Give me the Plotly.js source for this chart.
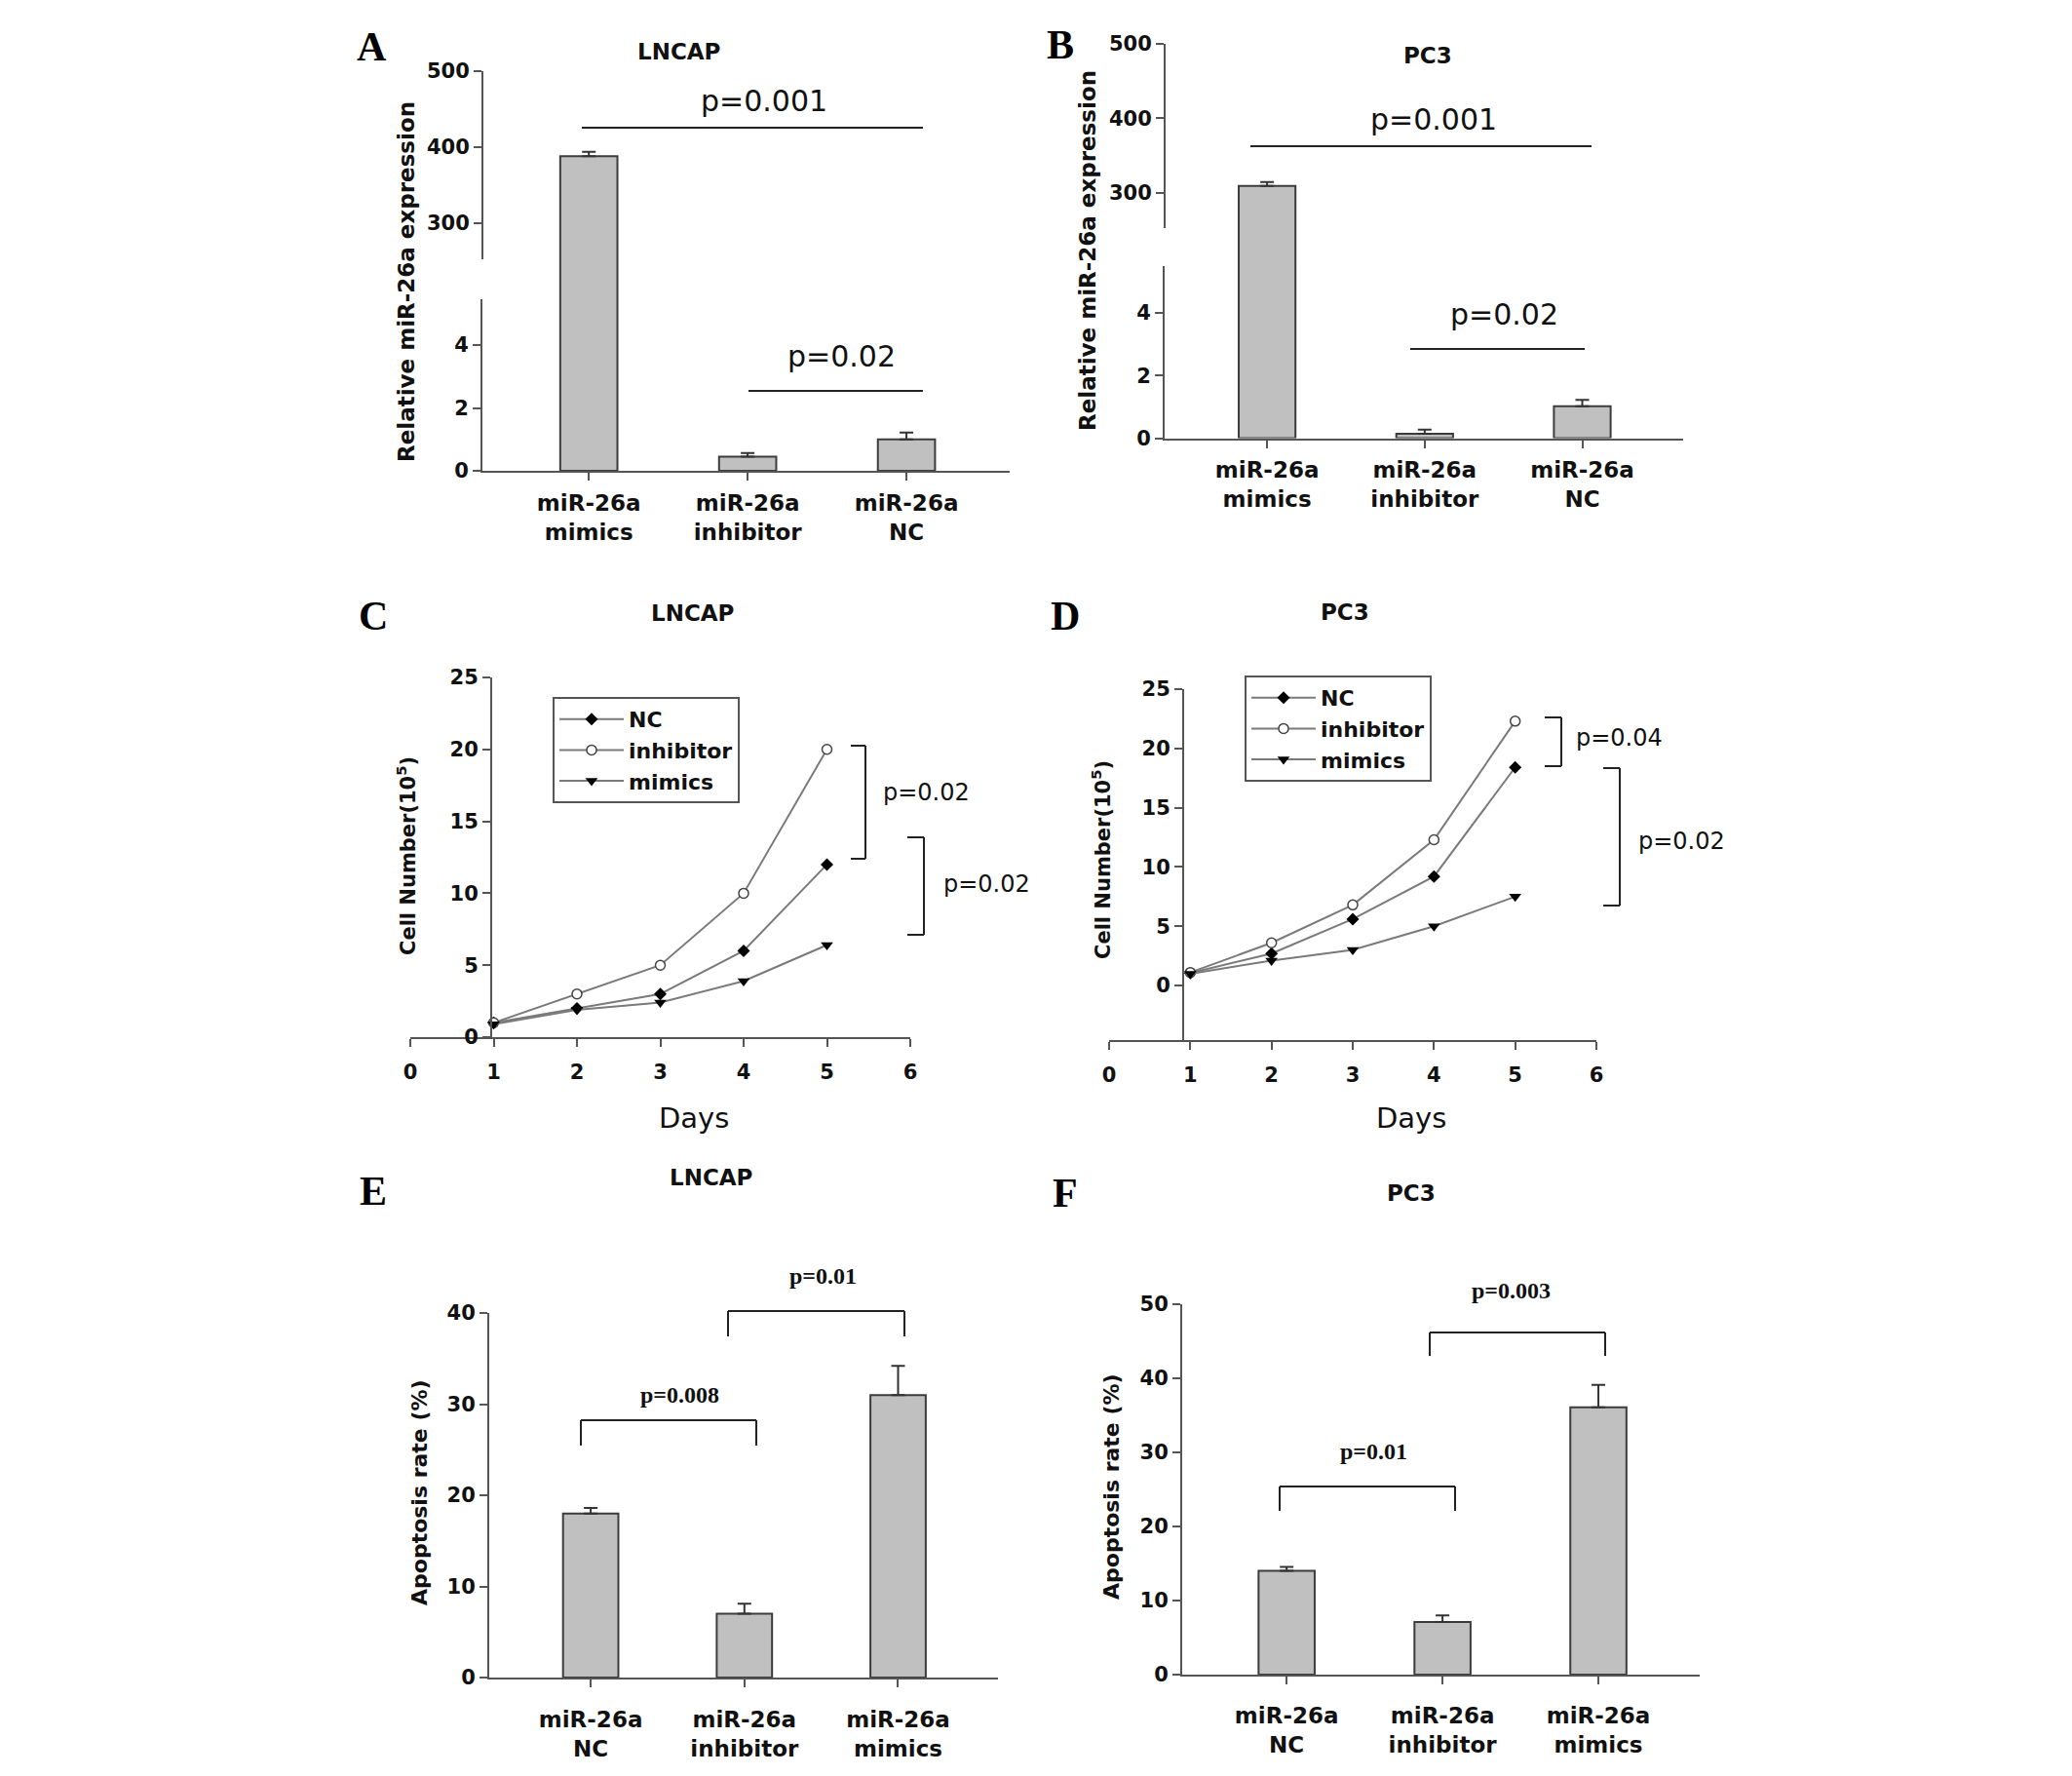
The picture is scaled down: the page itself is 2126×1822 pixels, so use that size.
<!DOCTYPE html>
<html>
<head>
<meta charset="utf-8">
<script src="https://cdn.plot.ly/plotly-3.0.1.min.js"></script>
<style>
  html, body { margin: 0; padding: 0; background: #fff; }
  #fig { width: 2126px; height: 1822px; }
</style>
</head>
<body>
<div id="fig"></div>
<script>
// ---- data ----
var abCats = ["miR-26a<br>mimics", "miR-26a<br>inhibitor", "miR-26a<br>NC"];
var lncapExpr = [388, 0.45, 1.0];
var lncapExprErr = [6, 0.12, 0.22];
var pc3Expr = [309, 0.14, 1.02];
var pc3ExprErr = [5, 0.13, 0.2];

var days = [1, 2, 3, 4, 5];
var lncapNC = [1, 2, 3, 6, 12];
var lncapInhibitor = [1, 3, 5, 10, 20];
var lncapMimics = [0.9, 1.9, 2.4, 3.9, 6.4];
var pc3NC = [1.05, 2.7, 5.6, 9.2, 18.4];
var pc3Inhibitor = [1.1, 3.6, 6.8, 12.3, 22.3];
var pc3Mimics = [1, 2.1, 3.0, 5.0, 7.5];
var seriesNames = ["NC", "inhibitor", "mimics"];

var efCats = ["miR-26a<br>NC", "miR-26a<br>inhibitor", "miR-26a<br>mimics"];
var lncapApop = [18, 7, 31];
var lncapApopErr = [0.6, 1.1, 3.2];
var pc3Apop = [14, 7.1, 36.1];
var pc3ApopErr = [0.55, 0.9, 3.0];

// ---- helpers (pixel -> paper) ----
var W = 2126, H = 1822;
function fx(px) { return px / W; }
function fy(py) { return 1 - py / H; }

var AX = "#555";
var BOLD = { family: "DejaVu Sans", size: 21, color: "#111", weight: "bold" };

function catAxis(l, r, range, anchor, cats, standoff) {
    return {
        domain: [fx(l), fx(r)], range: range, anchor: anchor,
        type: "category", categoryorder: "array", categoryarray: cats,
        showline: true, linecolor: AX, linewidth: 2,
        ticks: "outside", ticklen: 8, tickwidth: 2, tickcolor: AX,
        ticklabelstandoff: standoff,
        showgrid: false, zeroline: false,
        tickfont: { family: "DejaVu Sans", size: 23, color: "#111", weight: "bold" }
    };
}
function valAxis(top, bottom, range, anchor, vals, line) {
    return {
        domain: [fy(bottom), fy(top)], range: range, anchor: anchor,
        showline: line, linecolor: AX, linewidth: 2,
        ticks: "outside", ticklen: 8, tickwidth: 2, tickcolor: AX,
        tickmode: "array", tickvals: vals,
        showgrid: false, zeroline: false, tickfont: BOLD
    };
}

function bars(cats, vals, err, xa, ya) {
    return {
        type: "bar", x: cats, y: vals, xaxis: xa, yaxis: ya, width: 0.36,
        marker: { color: "#c0c0c0", line: { color: "#3c3c3c", width: 2 } },
        error_y: { type: "data", array: err, arrayminus: err.map(function() { return 0; }),
                   symmetric: false, color: "#333", thickness: 2, width: 7 },
        showlegend: false, hoverinfo: "skip"
    };
}

var markers = [
    { symbol: "diamond", size: 10, color: "#000" },
    { symbol: "circle", size: 10, color: "#fff", line: { color: "#444", width: 1.5 } },
    { symbol: "triangle-down", size: 11, color: "#000" }
];
function growth(y, i, xa, ya, leg) {
    return {
        type: "scatter", mode: "lines+markers", x: days, y: y, name: seriesNames[i],
        xaxis: xa, yaxis: ya, legend: leg,
        line: { color: "#7a7a7a", width: 2 }, marker: markers[i], hoverinfo: "skip"
    };
}

var data = [
    // A: LNCAP expression, broken axis (upper y, lower y2)
    bars(abCats, lncapExpr, lncapExprErr, "x", "y"),
    bars(abCats, lncapExpr, lncapExprErr, "x", "y2"),
    // B: PC3 expression (upper y3, lower y4)
    bars(abCats, pc3Expr, pc3ExprErr, "x2", "y3"),
    bars(abCats, pc3Expr, pc3ExprErr, "x2", "y4"),
    // C / D growth curves
    growth(lncapNC, 0, "x3", "y5", "legend"),
    growth(lncapInhibitor, 1, "x3", "y5", "legend"),
    growth(lncapMimics, 2, "x3", "y5", "legend"),
    growth(pc3NC, 0, "x4", "y6", "legend2"),
    growth(pc3Inhibitor, 1, "x4", "y6", "legend2"),
    growth(pc3Mimics, 2, "x4", "y6", "legend2"),
    // E / F apoptosis
    bars(efCats, lncapApop, lncapApopErr, "x5", "y7"),
    bars(efCats, pc3Apop, pc3ApopErr, "x6", "y8")
];

function dayAxis(l, r, anchor) {
    return {
        domain: [fx(l), fx(r)], range: [0, 6], anchor: anchor,
        tickmode: "array", tickvals: [0, 1, 2, 3, 4, 5, 6],
        showline: true, linecolor: AX, linewidth: 2,
        ticks: "outside", ticklen: 8, tickwidth: 2, tickcolor: AX,
        ticklabelstandoff: 8,
        showgrid: false, zeroline: false, tickfont: BOLD
    };
}

var legendStyle = {
    xanchor: "left", yanchor: "top",
    bordercolor: "#555", borderwidth: 2, bgcolor: "#fff",
    itemwidth: 66, tracegroupgap: 0,
    font: { family: "DejaVu Sans", size: 22, color: "#111", weight: "bold" }
};

var layout = {
    width: W, height: H,
    margin: { l: 0, r: 0, t: 0, b: 0 },
    paper_bgcolor: "#fff", plot_bgcolor: "rgba(0,0,0,0)",
    showlegend: true,

    xaxis: catAxis(495, 1036, [-0.67, 2.65], "y2", abCats, 3),
    yaxis: valAxis(73, 307, [200, 500], "x", [300, 400, 500], false),
    yaxis2: valAxis(307, 483, [0, 5.46], "x", [0, 2, 4], true),

    xaxis2: catAxis(1195, 1727, [-0.65, 2.64], "y4", abCats, 3),
    yaxis3: valAxis(45, 273, [201, 500], "x2", [300, 400, 500], false),
    yaxis4: valAxis(273, 449.5, [0, 5.5], "x2", [0, 2, 4], true),

    xaxis3: dayAxis(421, 934, "y5"),
    yaxis5: Object.assign(valAxis(695, 1064, [0, 25], "free", [0, 5, 10, 15, 20, 25], true),
                          { position: fx(504) }),
    xaxis4: dayAxis(1138, 1638, "y6"),
    yaxis6: Object.assign(valAxis(707, 1067, [-4.6, 25], "free", [0, 5, 10, 15, 20, 25], true),
                          { position: fx(1214) }),

    xaxis5: catAxis(502, 1024, [-0.66, 2.65], "y7", efCats, 13),
    yaxis7: valAxis(1347, 1721, [0, 40], "x5", [0, 10, 20, 30, 40], true),
    xaxis6: catAxis(1213, 1744, [-0.67, 2.65], "y8", efCats, 12),
    yaxis8: valAxis(1338, 1718, [0, 50], "x6", [0, 10, 20, 30, 40, 50], true),

    legend: Object.assign({ x: fx(567), y: fy(715) }, legendStyle),
    legend2: Object.assign({ x: fx(1277), y: fy(693) }, legendStyle),
    annotations: [],
    shapes: []
};

function note(px, py, text, font, angle) {
    layout.annotations.push({
        xref: "paper", yref: "paper", x: fx(px), y: fy(py), text: text,
        showarrow: false, xanchor: "center", yanchor: "middle",
        textangle: angle || 0, font: font
    });
}
function seg(x0, y0, x1, y1, color) {
    layout.shapes.push({
        type: "line", xref: "paper", yref: "paper",
        x0: fx(x0), y0: fy(y0), x1: fx(x1), y1: fy(y1),
        line: { color: color || "#222", width: 2 }
    });
}
// bracket opening downward (E, F)
function bracketDown(l, r, top, legEnd) {
    seg(l, legEnd, l, top); seg(l, top, r, top); seg(r, top, r, legEnd);
}
// bracket opening left (C, D)
function bracketLeft(x, tickEnd, top, bottom) {
    seg(tickEnd, top, x, top); seg(x, top, x, bottom); seg(x, bottom, tickEnd, bottom);
}

var letterFont = { family: "Liberation Serif, Times New Roman, serif", size: 42, color: "#000", weight: "bold" };
var titleFont = { family: "DejaVu Sans", size: 23, color: "#111", weight: "bold" };
var ytFont = { family: "DejaVu Sans", size: 23, color: "#111", weight: "bold" };
var pBig = { family: "DejaVu Sans", size: 30, color: "#111" };
var pMid = { family: "DejaVu Sans", size: 24, color: "#111" };
var pSerif = { family: "Liberation Serif, Times New Roman, serif", size: 24, color: "#111", weight: "bold" };

// panel letters
note(381, 48, "A", letterFont); note(1088, 46, "B", letterFont);
note(383, 632, "C", letterFont); note(1093, 632, "D", letterFont);
note(383, 1222, "E", letterFont); note(1093, 1224, "F", letterFont);

// panel titles
note(696, 53, "LNCAP", titleFont); note(1465, 57, "PC3", titleFont);
note(710, 629, "LNCAP", titleFont); note(1380, 628, "PC3", titleFont);
note(729, 1208, "LNCAP", titleFont); note(1448, 1224, "PC3", titleFont);

// axis titles
note(417, 289, "Relative miR-26a expression", ytFont, -90);
note(1116, 257, "Relative miR-26a expression", ytFont, -90);
note(417, 878, "Cell Number(10<sup>5</sup>)", Object.assign({}, ytFont, { size: 21 }), -90);
note(1130, 882, "Cell Number(10<sup>5</sup>)", Object.assign({}, ytFont, { size: 21 }), -90);
note(430, 1531, "Apoptosis rate (%)", Object.assign({}, ytFont, { size: 22 }), -90);
note(1140, 1525, "Apoptosis rate (%)", Object.assign({}, ytFont, { size: 22 }), -90);
note(712, 1147, "Days", { family: "DejaVu Sans", size: 29, color: "#111" });
note(1448, 1147, "Days", { family: "DejaVu Sans", size: 29, color: "#111" });

// upper segments of the broken axes
seg(495, 73, 495, 266, AX);
seg(1195, 45, 1195, 234, AX);

// A, B significance lines
seg(597, 131, 947, 131); seg(768, 401, 947, 401);
note(784, 104, "p=0.001", pBig); note(863, 366, "p=0.02", pBig);
seg(1283, 150, 1633, 150); seg(1447, 358, 1626, 358);
note(1471, 123, "p=0.001", pBig); note(1543, 323, "p=0.02", pBig);

// C, D brackets
bracketLeft(888, 873, 765, 881); bracketLeft(948, 931, 859, 959);
note(950, 813, "p=0.02", pMid); note(1012, 907, "p=0.02", pMid);
bracketLeft(1602, 1585, 736, 786); bracketLeft(1662, 1645, 788, 929);
note(1661, 757, "p=0.04", pMid); note(1725, 863, "p=0.02", pMid);

// E, F brackets
bracketDown(596, 776, 1457, 1483); bracketDown(747, 928, 1345, 1371);
note(697, 1431, "p=0.008", pSerif); note(844, 1309, "p=0.01", pSerif);
bracketDown(1313, 1493, 1525, 1550); bracketDown(1467, 1647, 1367, 1391);
note(1409, 1489, "p=0.01", pSerif); note(1551, 1324, "p=0.003", pSerif);

Plotly.newPlot("fig", data, layout, { staticPlot: true, displayModeBar: false });
</script>
</body>
</html>
